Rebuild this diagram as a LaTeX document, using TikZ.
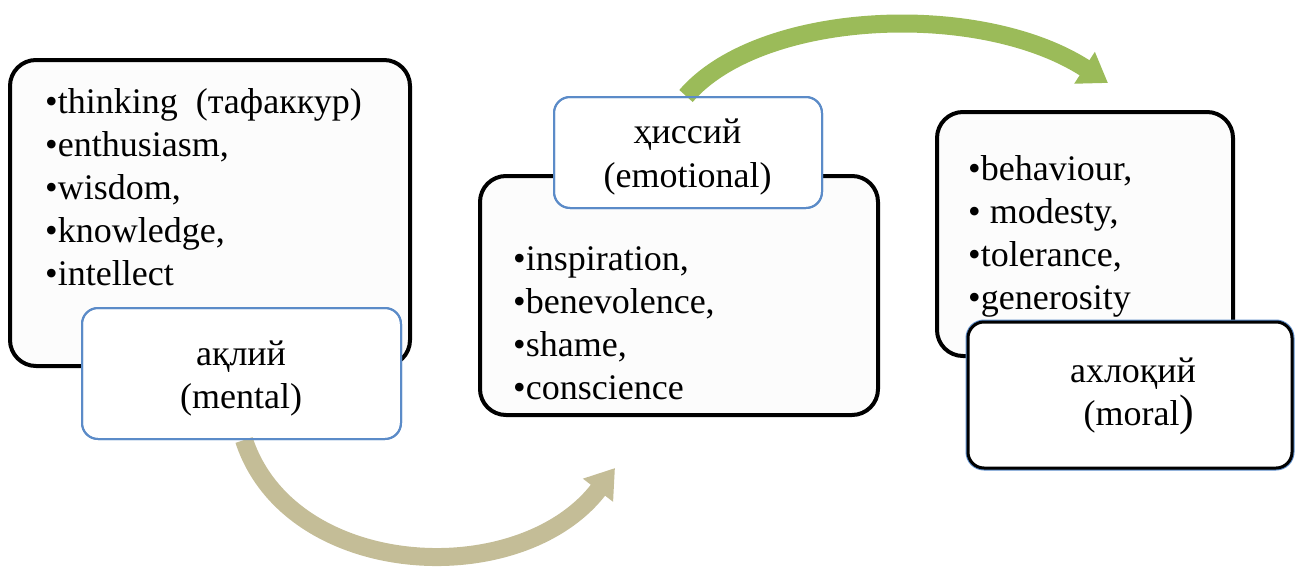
\documentclass[tikz,border=0pt]{standalone}
\usepackage{fontspec}
\setmainfont{Liberation Serif}
\usetikzlibrary{arrows.meta}
\definecolor{boxfill}{HTML}{FCFCFC}
\definecolor{lblblue}{HTML}{5B8BC8}
\definecolor{arrgreen}{HTML}{9BBB59}
\definecolor{arrtan}{HTML}{C4BD97}
\tikzset{
  listbox/.style={draw=black, line width=4pt, fill=boxfill, rounded corners=26pt, inner sep=0pt},
  lblbox/.style={draw=lblblue, line width=2pt, fill=white, rounded corners=16pt, inner sep=0pt},
  lblboxdark/.style={draw=black, line width=3pt, fill=white, rounded corners=16pt, inner sep=0pt},
  lblboxrim/.style={draw=lblblue, line width=5pt, rounded corners=16pt, inner sep=0pt},
  item/.style={anchor=base west, inner sep=0pt, font=\fontsize{36}{43}\selectfont},
  lbltext/.style={anchor=base, inner sep=0pt, font=\fontsize{36}{43}\selectfont},
  flow/.style={line width=18pt, -{Triangle[length=28pt,width=36pt]}},
}
\begin{document}
\begin{tikzpicture}[x=1pt,y=-1pt]
\useasboundingbox (0,0) rectangle (1295,568);
\coordinate (tanEnd) at (615,468);
\coordinate (greenEnd) at (1108,83);
% boxes
\node[listbox, minimum width=400pt, minimum height=306pt] (boxA) at (210,213) {};
\node[listbox, minimum width=398pt, minimum height=239pt] (boxB) at (679,295.5) {};
\node[listbox, minimum width=296pt, minimum height=244pt] (boxC) at (1085,234) {};
% labels
\node[lblbox, minimum width=319pt, minimum height=131pt] (lblA) at (241.5,373.5) {};
\node[lblbox, minimum width=268pt, minimum height=111pt] (lblB) at (688,152.5) {};
\node[lblboxrim, minimum width=324pt, minimum height=146pt] (lblCo) at (1130,395) {};
\node[lblboxdark, minimum width=324pt, minimum height=146pt] (lblC) at (1130,395) {};
% arrows
\draw[arrtan, flow] (lblA.south west) ++(163,0)
   .. controls (290,580) and (520,592) .. (tanEnd);
\draw[arrgreen, flow] (lblB.north west) ++(133,0)
   .. controls (760,10) and (980,0) .. (greenEnd);
% redraw label borders over arrow starts
\node[lblbox, minimum width=319pt, minimum height=131pt, fill=none] (lblAf) at (241.5,373.5) {};
\node[lblbox, minimum width=268pt, minimum height=111pt, fill=none] (lblBf) at (688,152.5) {};
% list texts
\node[item] (a1) at (45,113) {•thinking\ \ (тафаккур)};
\node[item] (a2) at (45,156) {•enthusiasm,};
\node[item] (a3) at (45,199) {•wisdom,};
\node[item] (a4) at (45,242) {•knowledge,};
\node[item] (a5) at (45,285) {•intellect};
\node[item] (b1) at (513,270) {•inspiration,};
\node[item] (b2) at (513,313) {•benevolence,};
\node[item] (b3) at (513,356) {•shame,};
\node[item] (b4) at (513,399) {•conscience};
\node[item] (c1) at (968,180) {•behaviour,};
\node[item] (c2) at (968,223) {• modesty,};
\node[item] (c3) at (968,266) {•tolerance,};
\node[item] (c4) at (968,309) {•generosity};
% label texts
\node[lbltext] (ta1) at (241,365) {ақлий};
\node[lbltext] (ta2) at (241,408) {(mental)};
\node[lbltext] (tb1) at (687.5,143) {ҳиссий};
\node[lbltext] (tb2) at (687.5,187) {(emotional)};
\node[lbltext] (tc1) at (1133,382) {ахлоқий};
\node[lbltext] (tc2) at (1139,425) {(moral{\fontsize{44}{43}\selectfont)}};
\end{tikzpicture}
\end{document}
